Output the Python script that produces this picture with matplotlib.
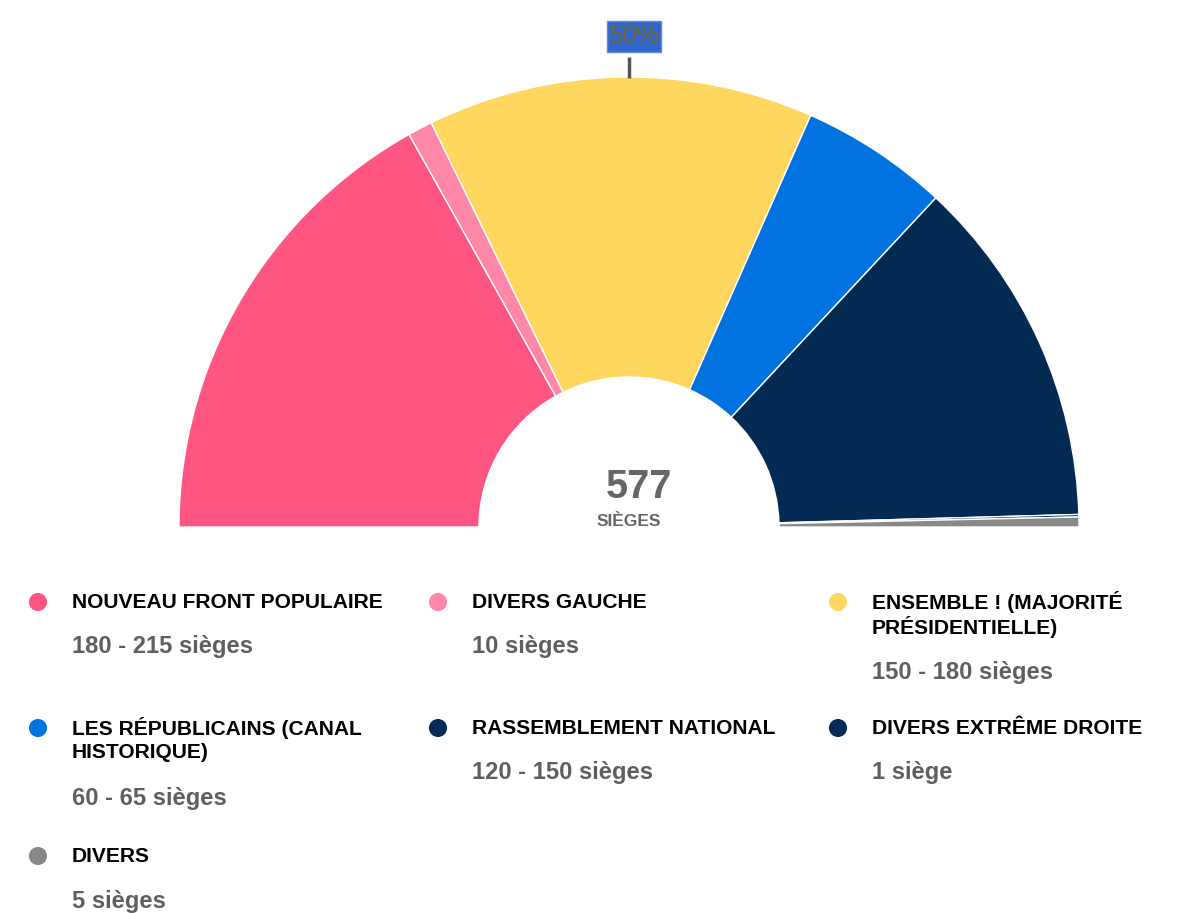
import matplotlib
matplotlib.use("Agg")
import matplotlib.pyplot as plt
from matplotlib.patches import Rectangle

# ---- data ----
parties = ["NOUVEAU FRONT POPULAIRE", "DIVERS GAUCHE", "ENSEMBLE ! (MAJORITÉ\nPRÉSIDENTIELLE)",
           "LES RÉPUBLICAINS (CANAL\nHISTORIQUE)", "RASSEMBLEMENT NATIONAL",
           "DIVERS EXTRÊME DROITE", "DIVERS"]
seat_labels = ["180 - 215 sièges", "10 sièges", "150 - 180 sièges", "60 - 65 sièges",
               "120 - 150 sièges", "1 siège", "5 sièges"]
arc_seats = [190, 10, 156, 60, 142, 1, 4]
colors = ["#ff5582", "#ff87a8", "#ffd65e", "#0073e1", "#032a53", "#032a53", "#888888"]
total_label = "577"
total_sub = "SIÈGES"
marker_label = "50%"

W, H = 1195, 913
fig = plt.figure(figsize=(W / 100, H / 100), dpi=100)
ax = fig.add_axes([0, 0, 1, 1])

def Y(y):  # pixel-from-top to data
    return H - y

cx, cy = 629, 527
R, inner = 450, 150
vals = arc_seats + [sum(arc_seats)]
cols = colors + ["none"]
wedges, _ = ax.pie(vals, colors=cols, startangle=180, counterclock=False,
                   radius=R, center=(cx, Y(cy)), frame=True,
                   wedgeprops=dict(width=R - inner, edgecolor="white", linewidth=1.0))
wedges[-1].set_edgecolor("none")
wedges[-1].set_facecolor("none")

ax.set_xlim(0, W)
ax.set_ylim(0, H)
ax.set_aspect("equal")
ax.axis("off")

FONT = "Liberation Sans"

# center text
ax.text(cx + 10, Y(487), total_label, ha="center", va="center", fontsize=28.5,
        fontweight="bold", color="#666666", family=FONT)
ax.text(cx, Y(521), total_sub, ha="center", va="center", fontsize=12.5,
        fontweight="bold", color="#666666", family=FONT)

# 50% marker
ax.plot([cx, cx], [Y(57), Y(78)], color="#555555", lw=2.5, solid_capstyle="butt")
ax.add_patch(Rectangle((607, Y(51.5)), 54, 30.5, facecolor="#3366cc",
                       edgecolor="#5b8be0", lw=1))
ax.text(634, Y(36), marker_label, ha="center", va="center", fontsize=18.4,
        color="#6f6a30", family=FONT)

# legend
col_x = [38, 438, 838]
row_y = [602, 728, 856]
line_h = 25
val_gap = 44
for i, (name, lab, c) in enumerate(zip(parties, seat_labels, colors)):
    r, k = divmod(i, 3)
    x0 = col_x[k]
    y0 = row_y[r]
    ax.scatter([x0], [Y(y0)], s=170, color=c, edgecolors="none")
    lines = name.split("\n")
    for j, ln in enumerate(lines):
        ax.text(x0 + 34, Y(y0 + j * line_h), ln, ha="left", va="center",
                fontsize=15.1, fontweight="bold", color="#000000", family=FONT)
    yv = y0 + (len(lines) - 1) * line_h + val_gap + 1
    ax.text(x0 + 34, Y(yv), lab, ha="left", va="center", fontsize=17.1,
            fontweight="bold", color="#5f5f5f", family=FONT)

fig.savefig("out.png", dpi=100, facecolor="white")
